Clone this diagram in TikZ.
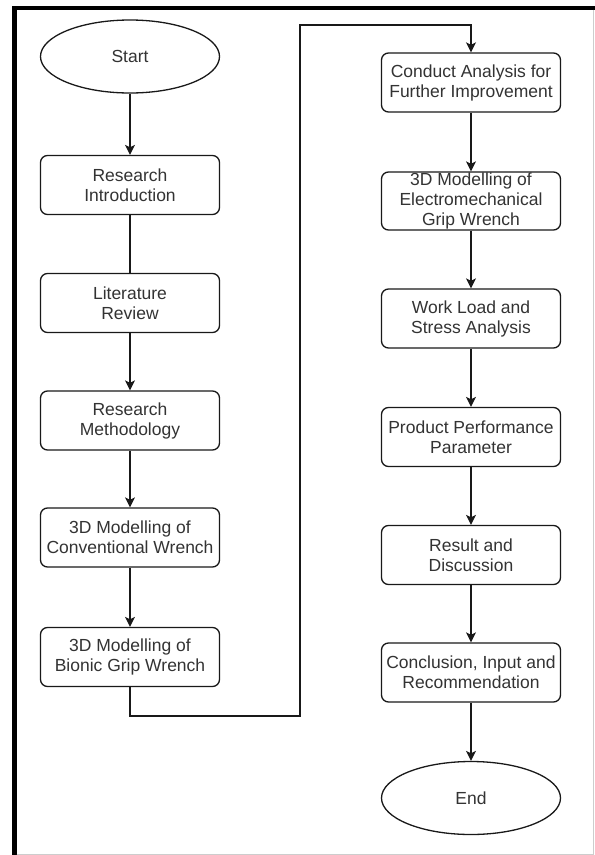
\documentclass[tikz,border=0pt]{standalone}
\usepackage{fontspec}
\setmainfont{Liberation Sans}
\usetikzlibrary{shapes.geometric,arrows.meta}
\definecolor{txt}{RGB}{51,51,51}
\definecolor{ln}{RGB}{25,25,25}
\definecolor{frm}{RGB}{205,205,205}
\begin{document}
\begin{tikzpicture}[x=1pt,y=-1pt,
  lbl/.style={text=txt, font=\fontsize{17.5}{20}\selectfont},
  box/.style={lbl, draw=ln, line width=1.3pt, rounded corners=7pt, minimum width=179pt, minimum height=59pt, inner sep=0pt, align=center},
  oval/.style={lbl, ellipse, draw=ln, line width=1.3pt, minimum width=179pt, minimum height=73pt, inner sep=0pt},
  lnk/.style={draw=ln, line width=1.3pt},
  arr/.style={lnk, -{Stealth[length=10pt,width=10pt,inset=2.5pt]}}]
\useasboundingbox (0,0) rectangle (595,855);
% frame
\fill[white] (0,0) rectangle (595,855);
\fill[black] (12,6) rectangle (16.7,855);
\fill[black] (12,6) rectangle (595,9.5);
\draw[frm, line width=1pt] (593,9.5) -- (593,855);
\draw[frm, line width=1pt] (16.7,854) -- (593,854);
% left column
\node[oval] (start) at (130,56.5) {Start};
\node[box] (ri) at (130,185) {Research\\Introduction};
\node[box] (lr) at (130,303) {Literature\\Review};
\node[box] (rm) at (130,420.5) {Research\\Methodology};
\node[box] (cw) at (130,537.5) {3D Modelling of\\Conventional Wrench};
\node[box] (bw) at (130,657) {3D Modelling of\\Bionic Grip Wrench};
% right column
\node[box] (ca) at (471,82.5) {Conduct Analysis for\\Further Improvement};
\node[box, minimum height=58pt] (em) at (471,201) {3D Modelling of\\Electromechanical\\Grip Wrench};
\node[box] (wl) at (471,318.5) {Work Load and\\Stress Analysis};
\node[box] (pp) at (471,437) {Product Performance\\Parameter};
\node[box] (rd) at (471,555) {Result and\\Discussion};
\node[box] (cr) at (471,672.5) {Conclusion, Input and\\Recommendation};
\node[oval] (end) at (471,798) {End};
% connectors
\draw[arr] (start) -- (ri);
\draw[lnk] (ri) -- (lr);
\draw[arr] (lr) -- (rm);
\draw[arr] (rm) -- (cw);
\draw[arr] (cw) -- (bw);
\coordinate (c2) at (300,716);
\coordinate (c4) at (471,25);
\draw[arr] (bw.south) |- (c2) |- (c4) -- (ca.north);
\draw[arr] (ca) -- (em);
\draw[arr] (em) -- (wl);
\draw[arr] (wl) -- (pp);
\draw[arr] (pp) -- (rd);
\draw[arr] (rd) -- (cr);
\draw[arr] (cr) -- (end);
\end{tikzpicture}
\end{document}
